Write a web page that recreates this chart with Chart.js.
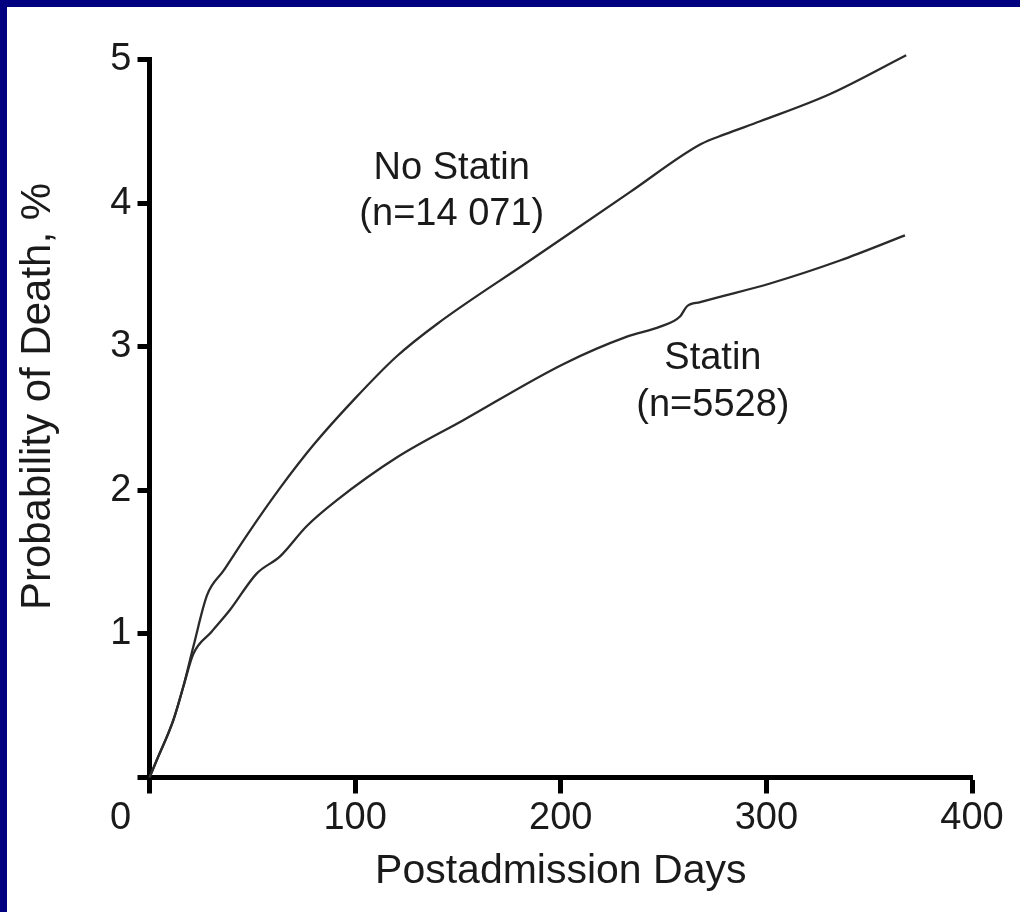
<!DOCTYPE html>
<html lang="en">
<head>
    <meta charset="UTF-8">
    <title>Probability of Death after Admission</title>
    <script src="https://cdn.jsdelivr.net/npm/chart.js"></script>
    <style>
        html, body {
            margin: 0;
            padding: 0;
            background: #fff;
            overflow: hidden;
        }
        #frame {
            position: absolute;
            left: 0;
            top: 0;
            width: 1020px;
            height: 912px;
            box-sizing: border-box;
            border-top: 7px solid #000080;
            border-left: 7px solid #000080;
            background: #fff;
        }
        canvas {
            display: block;
        }
    </style>
</head>
<body>
    <div id="frame">
        <canvas id="deathChart" width="1013" height="905"></canvas>
    </div>

    <script>
        // values
        const noStatinDays = [0, 3.5, 11.6, 16.4, 21.3, 28, 36, 47.5, 63.7, 80, 100, 120, 140, 185, 234, 268, 280, 297, 331, 368];
        const noStatinProb = [0, 0.12, 0.40, 0.63, 0.91, 1.27, 1.44, 1.69, 2.02, 2.32, 2.64, 2.93, 3.16, 3.60, 4.08, 4.41, 4.48, 4.57, 4.76, 5.03];

        const statinDays = [0, 3.5, 11.6, 16.4, 21.3, 30.2, 39.1, 52.1, 63.5, 76.4, 91, 120.4, 152.8, 201.4, 232.2, 248.4, 258, 261.3, 267.8, 301.8, 335.8, 367.4];
        const statinProb = [0, 0.12, 0.40, 0.63, 0.86, 1.015, 1.166, 1.42, 1.54, 1.75, 1.93, 2.23, 2.49, 2.88, 3.07, 3.14, 3.21, 3.28, 3.31, 3.44, 3.60, 3.775];

        const xTicks = [0, 100, 200, 300, 400];
        const yTicks = [0, 1, 2, 3, 4, 5];

        const xTitle = 'Postadmission Days';
        const yTitle = 'Probability of Death, %';

        // text next to the curves, anchored in data units
        const curveLabels = [
            { text: 'No Statin', day: 147, prob: 4.24 },
            { text: '(n=14 071)', day: 147, prob: 3.92 },
            { text: 'Statin', day: 274, prob: 2.92 },
            { text: '(n=5528)', day: 274, prob: 2.59 },
        ];

        const fontFamily = '"Liberation Sans", Arial, sans-serif';
        const textColor = '#1a1a1a';
        const lineColor = '#2a2a2a';
        const tickFont = 38;
        const xTickLen = 16;
        const xTickPad = 2;

        const toPoints = (days, prob) => days.map((d, i) => ({ x: d, y: prob[i] }));

        const extraText = {
            id: 'extraText',
            afterDraw(chart) {
                const { ctx, chartArea } = chart;
                const x = chart.scales.x;
                const y = chart.scales.y;
                ctx.save();
                ctx.fillStyle = textColor;
                ctx.font = tickFont + 'px ' + fontFamily;
                ctx.textAlign = 'center';
                ctx.textBaseline = 'middle';

                curveLabels.forEach(l => {
                    ctx.fillText(l.text, x.getPixelForValue(l.day), y.getPixelForValue(l.prob));
                });

                // the 0 of the day axis sits left of the y axis in the original
                ctx.fillText(String(xTicks[0]), x.getPixelForValue(xTicks[0]) - 29,
                    x.top + xTickLen + xTickPad + tickFont * 0.6);

                // y axis title
                ctx.font = '42px ' + fontFamily;
                ctx.translate(chartArea.left - 111.5, (chartArea.top + chartArea.bottom) / 2 - 22);
                ctx.rotate(-Math.PI / 2);
                ctx.fillText(yTitle, 0, 0);
                ctx.restore();
            }
        };

        const ctx = document.getElementById('deathChart').getContext('2d');

        const chart = new Chart(ctx, {
            type: 'line',
            data: {
                datasets: [{
                    label: 'No Statin',
                    data: toPoints(noStatinDays, noStatinProb),
                    borderColor: lineColor,
                    borderWidth: 2.3,
                    pointRadius: 0,
                    fill: false,
                    cubicInterpolationMode: 'monotone',
                    clip: false,
                }, {
                    label: 'Statin',
                    data: toPoints(statinDays, statinProb),
                    borderColor: lineColor,
                    borderWidth: 2.3,
                    pointRadius: 0,
                    fill: false,
                    cubicInterpolationMode: 'monotone',
                    clip: false,
                }],
            },
            options: {
                responsive: false,
                animation: false,
                devicePixelRatio: 1,
                layout: {
                    padding: { top: 52.5, right: 48, left: 0, bottom: 0 },
                },
                plugins: {
                    legend: { display: false },
                    tooltip: { enabled: false },
                },
                scales: {
                    x: {
                        type: 'linear',
                        position: 'bottom',
                        min: xTicks[0],
                        max: xTicks[xTicks.length - 1],
                        afterBuildTicks: scale => {
                            scale.ticks = xTicks.map(v => ({ value: v }));
                        },
                        afterFit: scale => {
                            scale.height = 134.5;
                        },
                        border: { display: true, width: 5, color: '#000' },
                        grid: {
                            drawOnChartArea: false,
                            drawTicks: true,
                            tickLength: xTickLen,
                            tickWidth: 5,
                            tickColor: '#000',
                        },
                        ticks: {
                            padding: xTickPad,
                            color: textColor,
                            font: { family: fontFamily, size: tickFont },
                            maxRotation: 0,
                            callback: v => (v === 0 ? '' : v),
                        },
                        title: {
                            display: true,
                            text: xTitle,
                            color: textColor,
                            font: { family: fontFamily, size: 41 },
                            padding: { top: 0, bottom: 16 },
                        },
                    },
                    y: {
                        min: yTicks[0],
                        max: yTicks[yTicks.length - 1],
                        afterBuildTicks: scale => {
                            scale.ticks = yTicks.map(v => ({ value: v }));
                        },
                        afterFit: scale => {
                            scale.width = 142.5;
                        },
                        border: { display: true, width: 5, color: '#000' },
                        grid: {
                            drawOnChartArea: false,
                            drawTicks: true,
                            tickLength: 12,
                            tickWidth: 5,
                            tickColor: '#000',
                        },
                        ticks: {
                            padding: 6,
                            color: textColor,
                            font: { family: fontFamily, size: tickFont },
                            callback: v => (v === 0 ? '' : v),
                        },
                    },
                },
            },
            plugins: [extraText],
        });
    </script>
</body>
</html>
